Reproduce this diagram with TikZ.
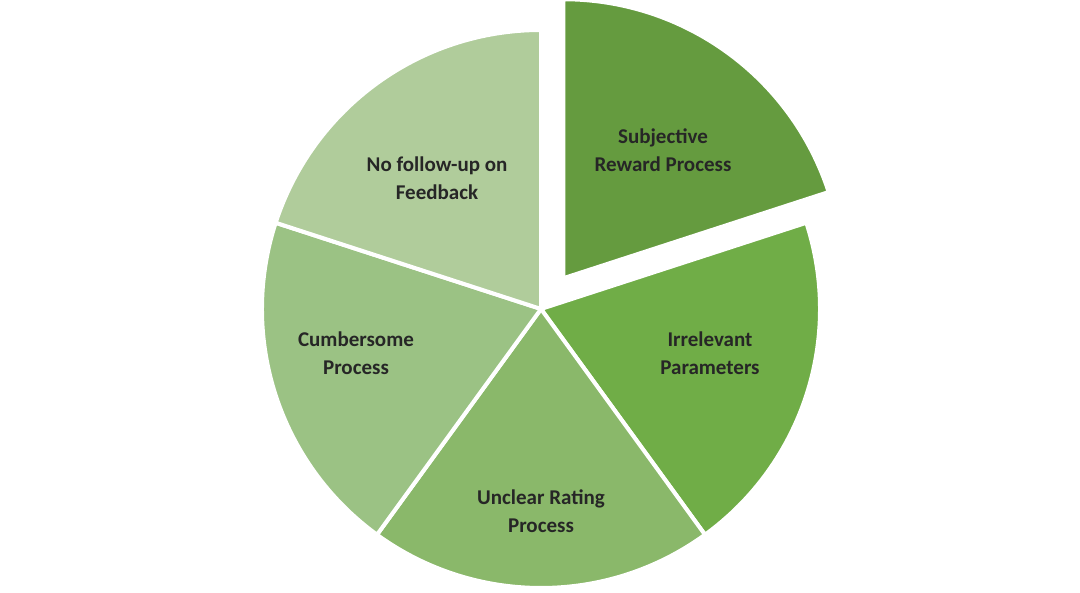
\documentclass[tikz,border=0pt]{standalone}
\usepackage{fontspec}
\setmainfont{Carlito}
\usetikzlibrary{calc}
\begin{document}
\begin{tikzpicture}[x=1pt,y=1pt,
  slice/.style={draw=white,line width=4pt,line join=round},
  lbl/.style={font=\bfseries\fontsize{21}{28}\selectfont,align=center,text=black!85}]
\useasboundingbox (0,0) rectangle (1080,593);
\def\R{279}
\coordinate (c) at (541,284);
\filldraw[slice,fill={rgb,255:red,112;green,173;blue,71}] (c) -- ++(18:\R) arc (18:-54:\R) -- cycle;
\filldraw[slice,fill={rgb,255:red,138;green,184;blue,106}] (c) -- ++(-54:\R) arc (-54:-126:\R) -- cycle;
\filldraw[slice,fill={rgb,255:red,155;green,194;blue,132}] (c) -- ++(-126:\R) arc (-126:-198:\R) -- cycle;
\filldraw[slice,fill={rgb,255:red,176;green,204;blue,155}] (c) -- ++(162:\R) arc (162:90:\R) -- cycle;
\coordinate (ce) at ($(c)+(54:38)$);
\filldraw[slice,fill={rgb,255:red,101;green,155;blue,63}] (ce) -- ++(90:\R) arc (90:18:\R) -- cycle;
\node[lbl] (s) at (663,443) {Subjective\\Reward Process};
\node[lbl] (i) at (710,240) {Irrelevant\\Parameters};
\node[lbl] (u) at (541,82) {Unclear Rating\\Process};
\node[lbl] (cu) at (356,240) {Cumbersome\\Process};
\node[lbl] (n) at (437,415) {No follow-up on\\Feedback};
\end{tikzpicture}
\end{document}
